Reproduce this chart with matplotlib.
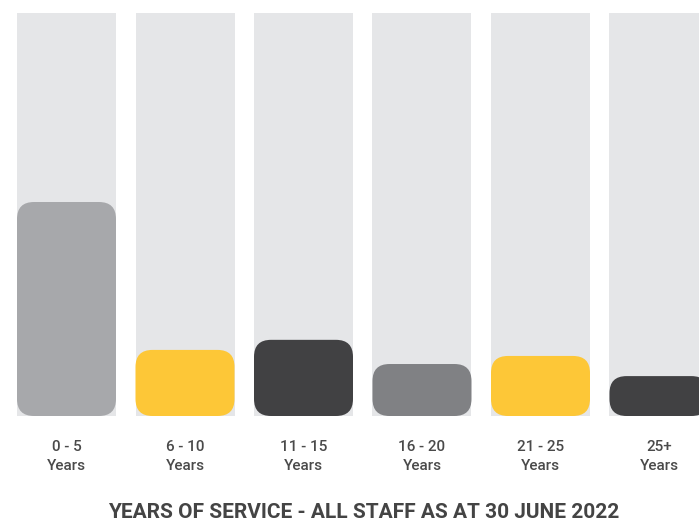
import matplotlib.pyplot as plt
from matplotlib.patches import FancyBboxPatch, Rectangle

# данные
categories = ['0 - 5\nYears', '6 - 10\nYears', '11 - 15\nYears',
              '16 - 20\nYears', '21 - 25\nYears', '25+\nYears']
values = [53.1, 16.4, 18.9, 12.9, 14.9, 9.9]
full_scale = 100
bar_colors = ['#a7a8ab', '#fdc737', '#414143', '#808184', '#fdc737', '#414143']
bg_color = '#e5e6e8'
title = 'YEARS OF SERVICE - ALL STAFF AS AT 30 JUNE 2022'

plt.rcParams['font.family'] = ['Roboto', 'DejaVu Sans']

W, H = 699, 521
fig = plt.figure(figsize=(W / 100, H / 100), dpi=100)
ax = fig.add_axes([0, 105 / H, 1, (508 - 105) / H])

step_px = 118.5
x0 = -66.5 / step_px
ax.set_xlim(x0, x0 + W / step_px)
ax.set_ylim(0, full_scale)
width = 99 / step_px

# соотношение масштабов осей для круглых углов
y_per_px = full_scale / 403
x_per_px = 1 / step_px
aspect = y_per_px / x_per_px
radius = 17 * x_per_px

for i, (v, c) in enumerate(zip(values, bar_colors)):
    ax.add_patch(Rectangle((i - width / 2, 0), width, full_scale,
                           facecolor=bg_color, edgecolor='none', zorder=1))
    ax.add_patch(FancyBboxPatch((i - width / 2, 0), width, v,
                                boxstyle=f'round,pad=0,rounding_size={radius}',
                                mutation_aspect=aspect,
                                facecolor=c, edgecolor='none', zorder=2))

ax.set_xticks(range(len(categories)))
ax.set_xticklabels(categories, fontsize=11, color='#4a4a4a',
                   fontweight='medium', linespacing=1.45)
ax.tick_params(axis='x', length=0, pad=17.5)
ax.set_yticks([])
for s in ax.spines.values():
    s.set_visible(False)

fig.text(363.5 / W, 8 / H, title, ha='center', va='center',
         fontsize=15, fontweight='bold', color='#444444')

plt.savefig('out.png', dpi=100)
plt.close()
